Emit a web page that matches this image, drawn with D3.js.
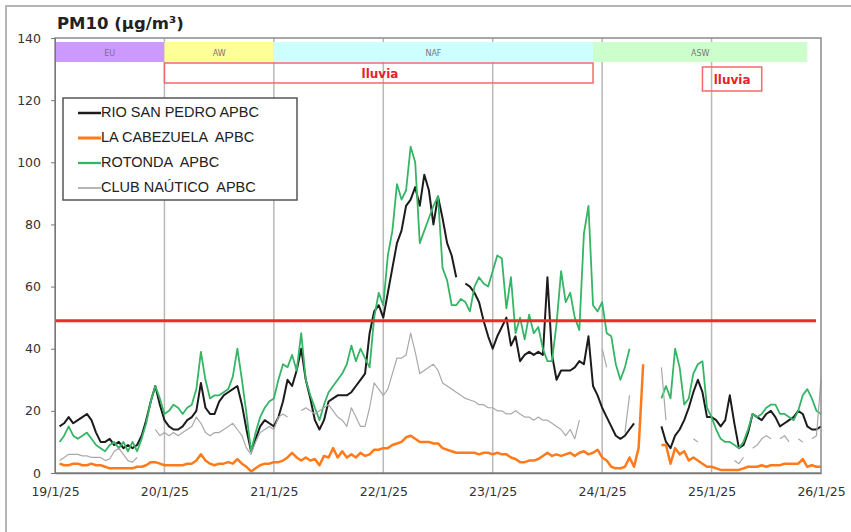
<!DOCTYPE html>
<html>
<head>
<meta charset="utf-8">
<script src="https://cdn.jsdelivr.net/npm/d3@7"></script>
<style>
  body { margin: 0; background: #fff; }
  svg { display: block; font-family: "DejaVu Sans", Verdana, sans-serif; }
</style>
</head>
<body>
<svg id="chart" width="851" height="532"></svg>
<script>
// hourly PM10 values, one row per day (hours 1..24), null = no data
const rioSanPedro = [].concat(
  [15,16,18,16,17,18,19,17,13,10,10,11,9,10,8,9,8,9,12,17,23,28,22,17],
  [15,14,14,15,17,18,20,29,21,19,19,23,25,26,27,28,22,14,7,11,15,17,16,15],
  [18,23,30,28,33,40,30,24,17,14,17,23,24,25,25,25,26,28,30,32,45,52,54,50],
  [58,66,74,78,86,88,92,86,96,91,80,89,82,74,70,63,null,61,60,58,55,49,44,40],
  [44,47,50,41,44,36,38,39,38,39,38,63,38,30,33,33,33,34,36,35,44,28,25,21],
  [18,15,12,11,12,14,16,null,null,null,null,null,15,10,8,12,14,17,21,26,30,26,18,18],
  [17,15,17,25,16,8,9,13,19,18,17,19,20,18,15,16,17,18,20,19,15,14,14,15]
);
const laCabezuela = [].concat(
  [3,2.5,2.5,3,3,2.5,2.5,3,2.5,2.5,2,1.5,1.5,1.5,1.5,1.5,1.5,2,2,2.5,3.5,3.5,3,2.5],
  [2.5,2.5,2.5,2.5,3,3,4,6,4,3,2.5,3,3,3.5,3,4.5,3,2,0.5,1.5,2.5,3,3,3.5],
  [3.5,4,5,6.5,5,4,5,4,4.5,2.5,5.5,5,8,5,7,5,6,5,6.5,5.5,6,7.5,7.5,8],
  [8,9,9.5,10,11.5,12,11,10,10,10,9.5,9.5,8,7.5,7,6.5,6.5,6.5,6.5,6.5,6,6.5,6.5,6],
  [6.5,6,6,5,4.5,3.5,3.5,4,4,4.5,5.5,6.5,5.5,6,5.5,6,6.5,5.5,6.5,7,6,6.5,7.5,5],
  [4,2,1.5,1.5,2,5,2,8,35,null,null,null,9,9,3,8,6,7,4,5,4,3,2,2],
  [1.5,1,1,1,1,1,1.5,2,2,2,2.5,2,2.5,2.5,2.5,3,3,3,3,4.5,2,2.5,2,2]
);
const rotonda = [].concat(
  [10,12,15,12,11,12,13,11,9,8,7,9,10,8,10,7,10,7,11,16,23,28,24,19],
  [20,22,21,19,21,22,27,39,30,24,25,25,26,27,31,40,30,19,7,13,18,21,23,24],
  [30,35,34,38,33,45,30,25,21,17,22,26,28,30,32,35,41,36,40,37,34,50,58,54],
  [70,78,93,88,91,105,100,74,78,82,86,89,66,62,54,54,56,55,52,60,63,61,60,65],
  [70,69,53,63,45,50,43,51,45,47,40,36,36,48,65,55,58,50,46,77,86,54,52,55],
  [45,44,35,30,34,40,null,null,null,null,null,null,24,28,24,40,34,22,24,32,35,36,21,18],
  [14,11,10,10,9,8,10,14,19,18,19,21,22,22,19,19,18,17,20,25,27,24,20,19]
);
const clubNautico = [].concat(
  [4,5,6,6,6,5.5,5.5,5,5,5,4,4.5,7,8,6,4,3.5,5,null,null,null,14,12,13],
  [12,13,12,13,14,15,18,16,13,12,13,13,14,15,16,14,12,8,6,10,13,14,15,14],
  [18,19,18,null,null,20,21,20,19,20,21,22,20,18,17,15,21,18,15,15,21,29,27,25],
  [27,32,37,37,38,45,39,32,33,34,35,33,29,28,27,26,25,24,23.5,23,22,22,21,21],
  [20,20,19,19,20,19,18,18,17,18,17,17,16,15,14,12,14,11,17,null,null,null,null,40],
  [34,null,null,null,13,25,null,null,null,null,null,null,34,17,null,null,null,null,null,11,10,null,null,null],
  [null,null,null,null,4,3,5,null,8,9,11,12,11,null,11,12,10,null,11,10,null,11,12,30]
);

const stationNames = ["RIO SAN PEDRO APBC", "LA CABEZUELA  APBC", "ROTONDA  APBC", "CLUB NAÚTICO  APBC"];
const stationValues = [rioSanPedro, laCabezuela, rotonda, clubNautico];
const stationColors = ["#1c1c1c", "#ff7a1a", "#35b565", "#a9a9a9"];
const stationWidths = [2, 2.5, 1.8, 1.2];

const limitValue = 49;
const yTicks = [0, 20, 40, 60, 80, 100, 120, 140];

// air-mass periods and rain, in hours since 19/1/25 00:00
const periodNames = ["EU", "AW", "NAF", "ASW"];
const periodStart = [0.5, 24.8, 48.5, 118.4];
const periodEnd = [24.3, 48, 118.4, 165];
const periodColors = ["#cc99ff", "#ffff99", "#ccffff", "#ccffcc"];
const rainStart = [24.8, 142.1];
const rainEnd = [118, 155.3];

const t0 = new Date(2025, 0, 19);
const hourDate = h => d3.timeHour.offset(t0, h);

const svg = d3.select("#chart");
const margin = { top: 38, right: 30, bottom: 59, left: 55 };
const W = 851 - margin.left - margin.right;
const H = 532 - margin.top - margin.bottom;

// outer frame
svg.append("rect").attr("x", 6).attr("y", 6).attr("width", 880).attr("height", 560)
  .attr("fill", "none").attr("stroke", "#b5b5b5").attr("stroke-width", 2);

const g = svg.append("g").attr("transform", `translate(${margin.left},${margin.top})`);

const x = d3.scaleTime().domain([t0, d3.timeDay.offset(t0, 7)]).range([0, W]);
const y = d3.scaleLinear().domain([0, 140]).range([H, 0]);

// vertical day grid
g.append("g").selectAll("line")
  .data(d3.timeDay.range(d3.timeDay.offset(t0, 1), d3.timeDay.offset(t0, 7)))
  .join("line")
  .attr("x1", d => x(d)).attr("x2", d => x(d))
  .attr("y1", 0).attr("y2", H)
  .attr("stroke", "#b8b8b8").attr("stroke-width", 1.5);

// periods
const bands = g.append("g");
periodNames.forEach((name, i) => {
  const x0 = x(hourDate(periodStart[i])), x1 = x(hourDate(periodEnd[i]));
  bands.append("rect").attr("x", x0).attr("y", 4).attr("width", x1 - x0).attr("height", 20)
    .attr("fill", periodColors[i]);
  bands.append("text").attr("x", (x0 + x1) / 2).attr("y", 15)
    .attr("text-anchor", "middle").attr("dominant-baseline", "middle")
    .attr("font-size", 8).attr("fill", "#777").text(name);
});

// rain boxes
const rainY = [25, 29], rainH = [20, 24];
rainStart.forEach((s, i) => {
  const x0 = x(hourDate(s)), x1 = x(hourDate(rainEnd[i]));
  g.append("rect").attr("x", x0).attr("y", rainY[i]).attr("width", x1 - x0).attr("height", rainH[i])
    .attr("fill", "none").attr("stroke", "#f26a6a").attr("stroke-width", 1.5);
  g.append("text").attr("x", i === 0 ? 325 : (x0 + x1) / 2).attr("y", rainY[i] + rainH[i] / 2 + 1)
    .attr("text-anchor", "middle").attr("dominant-baseline", "middle")
    .attr("font-size", 12).attr("font-weight", "bold").attr("fill", "#e8202a").text("lluvia");
});

// series
const line = d3.line()
  .defined(d => d.v !== null)
  .x(d => x(d.t)).y(d => y(d.v));

stationValues.forEach((vals, i) => {
  const pts = vals.map((v, k) => ({ t: hourDate(k + 1), v: v }));
  g.append("path").datum(pts)
    .attr("fill", "none")
    .attr("stroke", stationColors[i])
    .attr("stroke-width", stationWidths[i])
    .attr("stroke-linejoin", "round")
    .attr("d", line);
});

// limit line
g.append("line").attr("x1", 0).attr("x2", W - 5)
  .attr("y1", y(limitValue)).attr("y2", y(limitValue))
  .attr("stroke", "#ee2a2a").attr("stroke-width", 3);

// plot frame
g.append("rect").attr("width", W).attr("height", H)
  .attr("fill", "none").attr("stroke", "#8a8a8a").attr("stroke-width", 1.5);

// axes
const yAxis = g.append("g").call(d3.axisLeft(y).tickValues(yTicks).tickSize(4).tickPadding(10));
yAxis.select(".domain").attr("stroke", "#777");
yAxis.selectAll(".tick line").attr("stroke", "#777");
yAxis.selectAll("text").attr("font-size", 12.5).attr("fill", "#333")
  .attr("font-family", "'DejaVu Sans', Verdana, sans-serif");

const xAxis = g.append("g").attr("transform", `translate(0,${H})`)
  .call(d3.axisBottom(x).ticks(d3.timeDay.every(1)).tickFormat(d3.timeFormat("%-d/%-m/%y"))
    .tickSize(0).tickPadding(14));
xAxis.select(".domain").attr("stroke", "#777").attr("stroke-width", 1.5);
xAxis.selectAll("text").attr("font-size", 12.5).attr("fill", "#333")
  .attr("font-family", "'DejaVu Sans', Verdana, sans-serif");

// title
svg.append("text").attr("x", 57).attr("y", 29)
  .attr("font-size", 16.5).attr("font-weight", "bold").attr("fill", "#222")
  .text("PM10 (µg/m³)");

// legend
const lg = svg.append("g").attr("transform", "translate(63,98)");
lg.append("rect").attr("width", 234).attr("height", 102)
  .attr("fill", "#fff").attr("stroke", "#555").attr("stroke-width", 1.5);
stationNames.forEach((name, i) => {
  const ly = 15 + i * 25;
  lg.append("line").attr("x1", 15).attr("x2", 38).attr("y1", ly).attr("y2", ly)
    .attr("stroke", stationColors[i]).attr("stroke-width", stationWidths[i] + 0.5);
  lg.append("text").attr("x", 38).attr("y", ly).attr("dominant-baseline", "middle")
    .attr("font-family", "'Liberation Sans', Arial, sans-serif")
    .attr("font-size", 14.5).attr("fill", "#222").style("white-space", "pre").text(name);
});
</script>
</body>
</html>
